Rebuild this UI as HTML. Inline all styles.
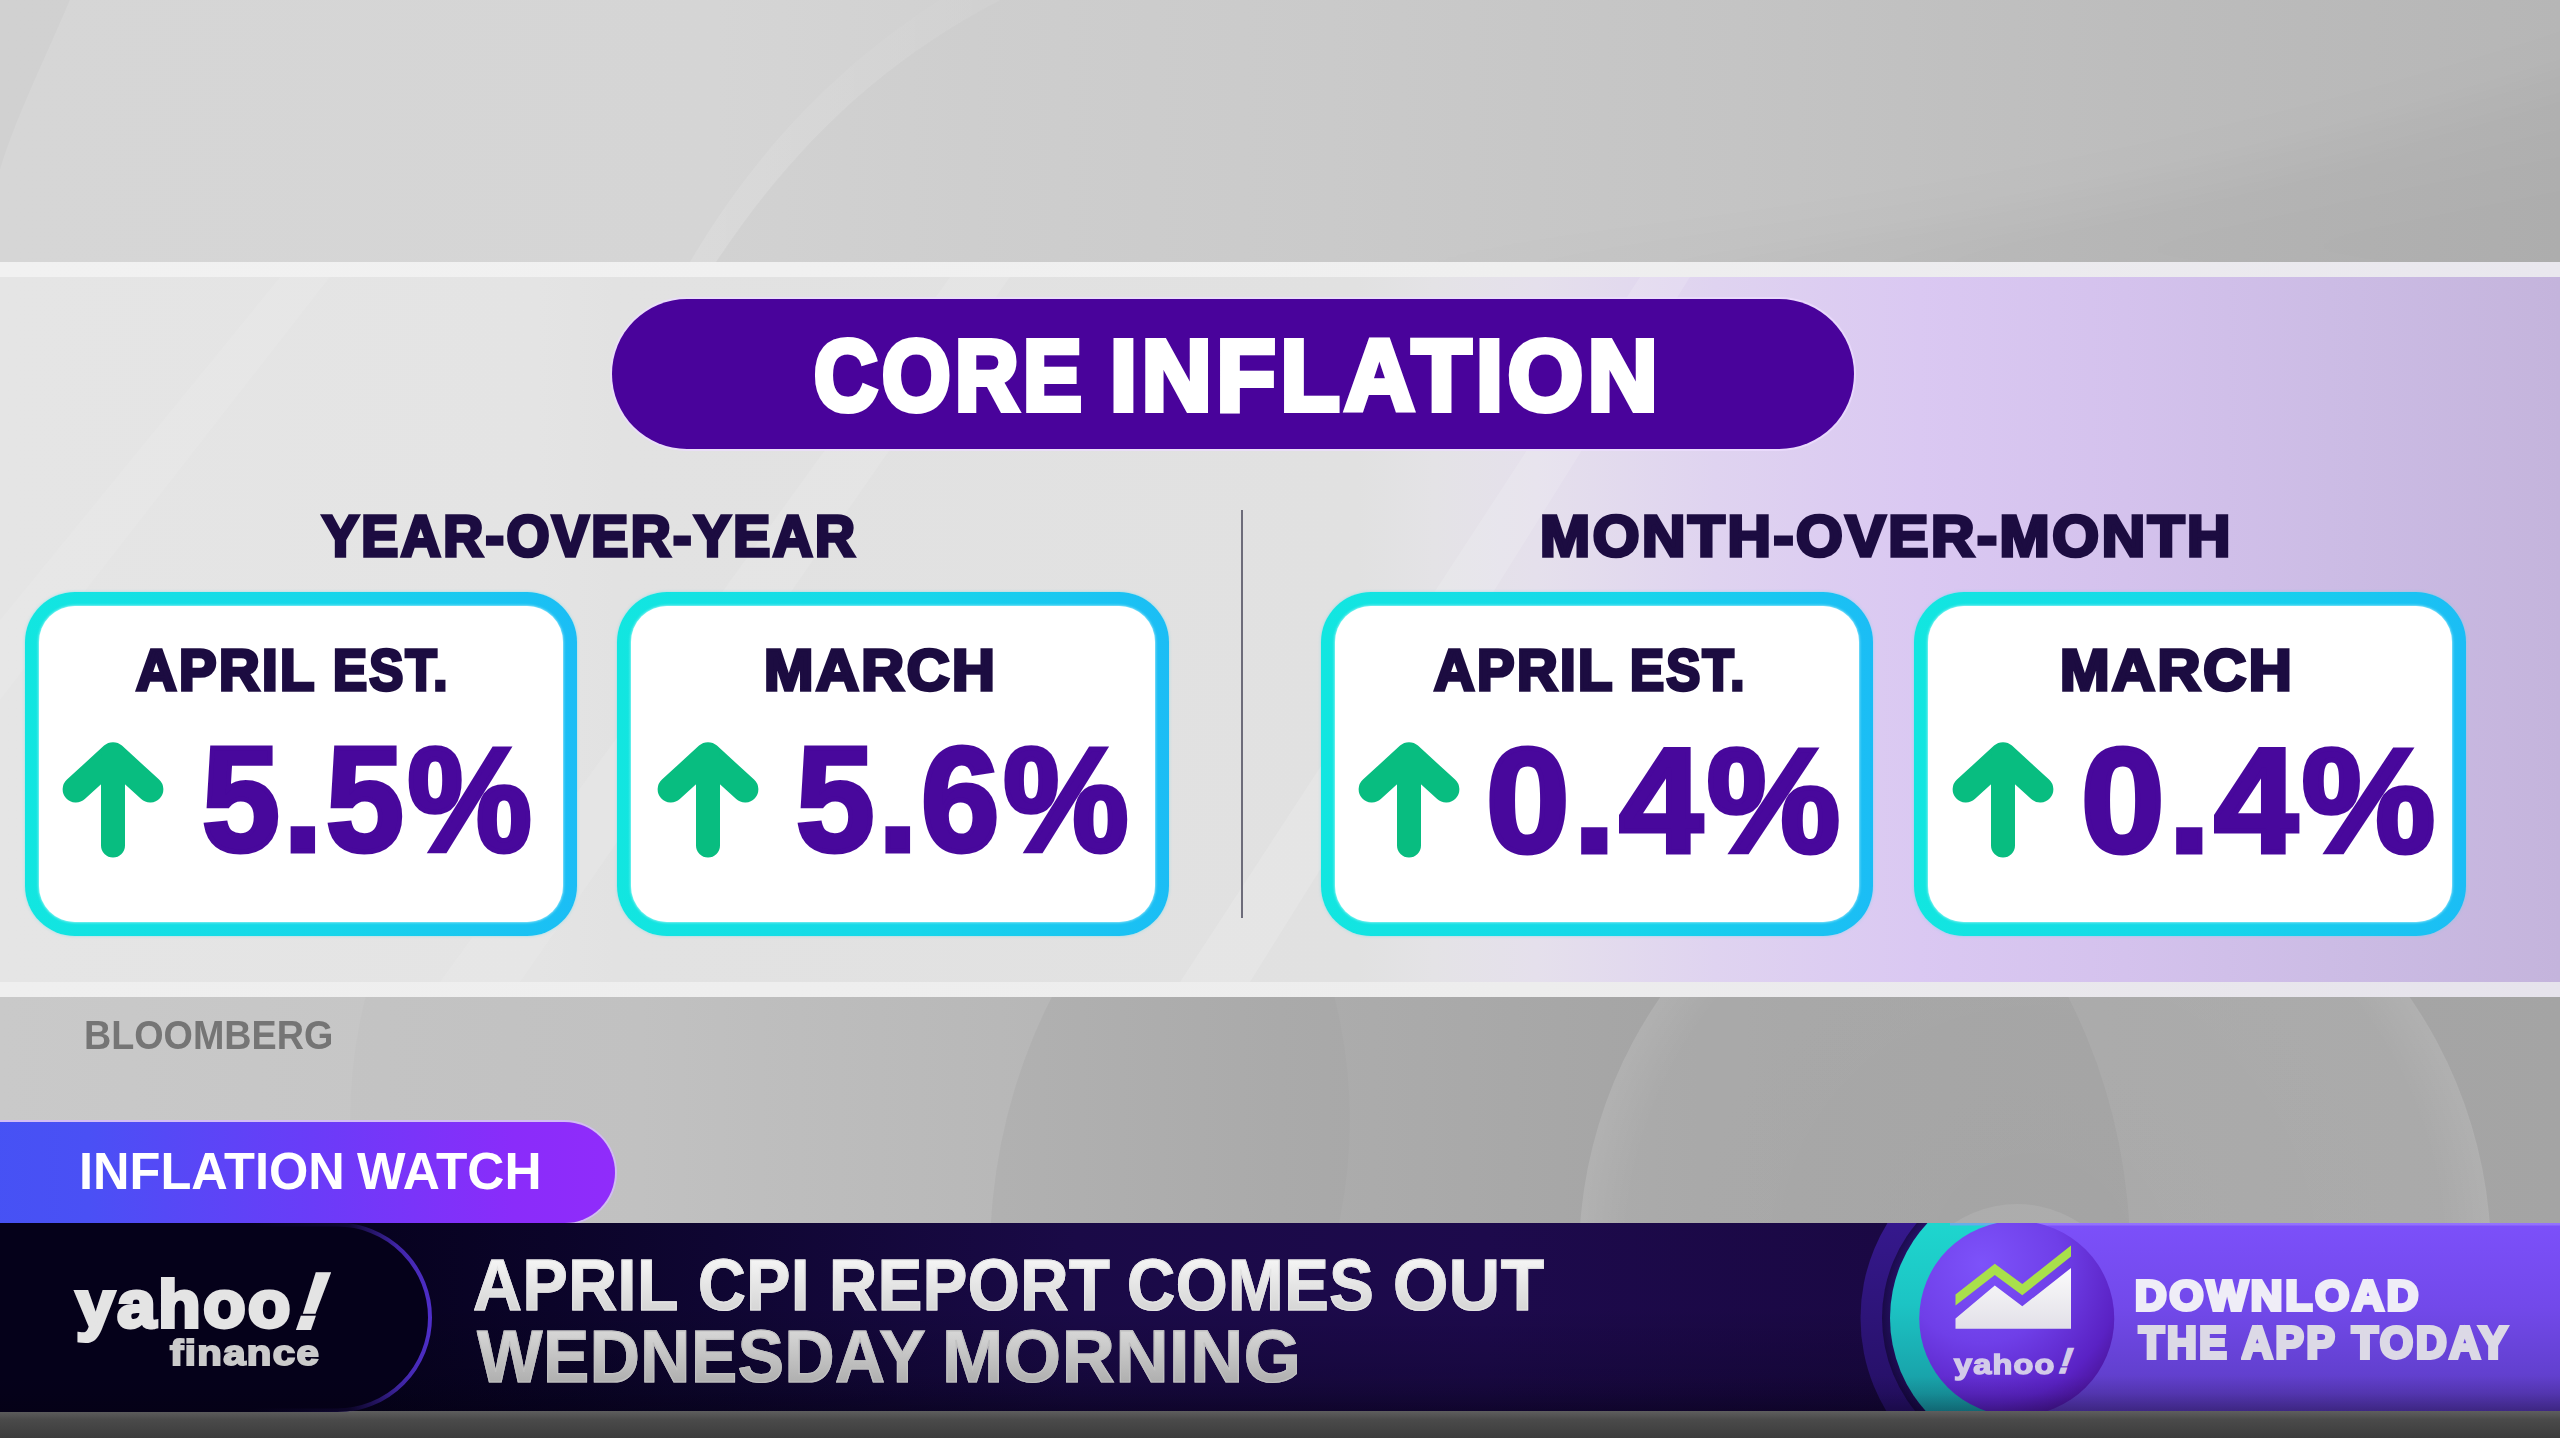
<!DOCTYPE html>
<html lang="en">
<head>
<meta charset="utf-8">
<title>Core Inflation</title>
<style>
*{margin:0;padding:0;box-sizing:border-box}
html,body{width:2560px;height:1438px;overflow:hidden;background:#cfcfcf}
body{font-family:"Liberation Sans",sans-serif;font-weight:700;position:relative}
.abs{position:absolute}
.t{position:absolute;white-space:nowrap;line-height:1;transform-origin:0 0}

/* background */
#bgTop{left:0;top:0;width:2560px;height:262px;background:linear-gradient(90deg,#d6d6d6 0%,#d5d5d5 28%,#d1d1d1 38%,#cdcdcd 52%,#c7c7c7 68%,#bfbfbf 85%,#b9b9b9 100%)}
#bgLow{left:0;top:997px;width:2560px;height:226px;background:linear-gradient(90deg,#c9c9c9 0%,#c4c4c4 25%,#b4b4b4 50%,#a9a9a9 70%,#a4a4a4 100%)}
#bgBot{left:0;top:1410px;width:2560px;height:28px;background:linear-gradient(180deg,#606060 0%,#4a4a4a 35%,#3c3c3c 100%)}

/* panel */
#panel{left:0;top:262px;width:2560px;height:735px;background:linear-gradient(90deg,#e5e5e5 0%,#e4e4e4 21%,#e2e2e2 24%,#e1e1e1 53%,#e4e3e6 56%,#e5e0ec 60%,#dfd3f0 67%,#dac8f2 75%,#d4c2ed 83%,#ccbce5 91%,#c4b4dc 100%)}
#pTop{left:0;top:262px;width:2560px;height:15px;background:linear-gradient(90deg,#f1f1f1 0%,#efefef 60%,#e9e7ee 100%)}
#pBot{left:0;top:982px;width:2560px;height:15px;background:linear-gradient(90deg,#efefef 0%,#ededed 60%,#e6e3ec 100%)}

/* title */
#pill{left:612px;top:299px;width:1242px;height:150px;border-radius:75px;background:#49039b;box-shadow:0 0 0 2px rgba(236,220,255,.75)}
.title{color:#fff;font-size:104px}
.h2{color:#1c0c41;font-size:58px}
#divider{left:1241px;top:510px;width:2px;height:408px;background:#6d6c7a}

/* cards */
.card{position:absolute;top:592px;width:552px;height:344px;border-radius:50px;background:linear-gradient(90deg,#12e6e0 0%,#16d6ea 55%,#1bbdf5 100%);box-shadow:0 0 3px rgba(80,220,240,.55)}
.card i{position:absolute;left:14px;top:14px;right:14px;bottom:14px;border-radius:36px;background:#fff;box-shadow:0 0 3px #e8ffff}
.lbl{color:#1c0c41;font-size:60px}
.num{color:#48089c;font-size:153px}
.arrow{position:absolute;overflow:visible}

/* lower third */
.src{color:#757575;font-size:40px}
#watch{left:-60px;top:1122px;width:675px;height:101px;border-radius:50.5px;background:linear-gradient(90deg,#4453f4 0%,#4a50f5 22%,#6a3cf8 55%,#8a2cfa 85%,#902cfb 100%);box-shadow:0 0 0 2px rgba(214,186,255,.8)}
.watchT{color:#fff;font-size:46px}
#bar{left:0;top:1223px;width:2560px;height:188px;background:linear-gradient(180deg,rgba(0,0,0,0) 0%,rgba(0,0,0,0) 45%,rgba(0,0,10,.28) 100%),linear-gradient(90deg,#050018 0%,#070220 15%,#0f0632 28%,#1a0a47 42%,#1d0a4c 58%,#1a0843 75%,#150838 100%)}
.hl{font-size:67px;color:#eee;background:linear-gradient(180deg,#fbfbfb 0%,#cfcfcf 100%);-webkit-background-clip:text;background-clip:text;-webkit-text-fill-color:transparent}
.hl1{-webkit-text-stroke-color:#e4e4e4}
.hl2{-webkit-text-stroke-color:#c0c0c0;background:linear-gradient(180deg,#dedede 0%,#a6a6a6 100%);-webkit-background-clip:text;background-clip:text}

.logo{color:#e4e4e4}
.fin{color:#cbcbcb}
.bang{transform-origin:0 100%}
#appbar{left:1840px;top:1223px;width:720px;height:188px;overflow:hidden}
.dl{color:#efedf7}
.dl2{color:#dcd9e6}
.ysm,#ysmx{color:#d3cbe9}
#barShade{left:0;top:1376px;width:2560px;height:35px;background:linear-gradient(180deg,rgba(4,0,16,0) 0%,rgba(4,0,16,.10) 50%,rgba(4,0,16,.30) 100%)}
</style>
</head>
<body>
<div class="abs" id="bgTop"></div>
<div class="abs" id="bgLow"></div>
<div class="abs" id="bgBot"></div>

<svg class="abs" id="deco" style="left:0;top:0" width="2560" height="1438" viewBox="0 0 2560 1438">
<defs>
<filter id="blur40" x="-20%" y="-60%" width="140%" height="220%"><feGaussianBlur stdDeviation="28"/></filter>
<clipPath id="clipTop"><rect x="0" y="0" width="2560" height="262"/></clipPath>
<clipPath id="clipLow"><rect x="0" y="997" width="2560" height="226"/></clipPath>
<linearGradient id="swA" x1="0" y1="0" x2="1" y2="0"><stop offset="0" stop-color="#fff" stop-opacity=".22"/><stop offset="1" stop-color="#fff" stop-opacity="0"/></linearGradient>
<linearGradient id="dkA" x1="0" y1="0" x2="1" y2="1"><stop offset="0" stop-color="#000" stop-opacity="0"/><stop offset="1" stop-color="#000" stop-opacity=".06"/></linearGradient>
<radialGradient id="c3G" cx=".5" cy=".5" r=".5"><stop offset="0" stop-color="#fff" stop-opacity=".03"/><stop offset=".9" stop-color="#fff" stop-opacity=".06"/><stop offset="1" stop-color="#fff" stop-opacity=".13"/></radialGradient>
</defs>
<g clip-path="url(#clipTop)">
<path d="M0 0 L70 0 C40 70 15 120 0 170 Z" fill="#000" opacity=".02"/>
<path d="M716 262 C790 150 880 62 1000 0 L2560 0 L2560 262 Z" fill="#000" opacity=".012"/>
<path d="M716 262 C790 150 880 62 1000 0 L940 0 C830 70 750 160 690 262 Z" fill="url(#swA)" opacity=".55"/>
<path d="M1350 300 C1850 250 2250 190 2660 40 L2660 300 Z" fill="url(#dkA)" filter="url(#blur40)"/>
</g>
<g clip-path="url(#clipLow)">
<circle cx="850" cy="1120" r="500" fill="#000" opacity=".012"/>
<circle cx="1560" cy="1255" r="570" fill="#000" opacity=".035"/>
<circle cx="2035" cy="1257" r="456" fill="url(#c3G)"/>
<circle cx="2017" cy="1318" r="114" fill="#fff" opacity=".09"/>
</g>
</svg>
<div class="abs" id="panel"></div>
<svg class="abs" id="streaks" style="left:0;top:277px" width="2560" height="705" viewBox="0 277 2560 705">
<polygon points="440,982 520,982 1010,277 950,277" fill="#fff" opacity=".10"/>
<polygon points="1180,982 1250,982 1690,277 1640,277" fill="#fff" opacity=".14"/>
<polygon points="0,620 0,700 330,277 280,277" fill="#fff" opacity=".08"/>
</svg>
<div class="abs" id="pTop"></div>
<div class="abs" id="pBot"></div>

<div class="abs" id="pill"></div>

<div class="abs" id="divider"></div>

<div class="card" id="c1" style="left:25px"><i></i></div>
<div class="card" id="c2" style="left:617px"><i></i></div>
<div class="card" id="c3" style="left:1321px"><i></i></div>
<div class="card" id="c4" style="left:1914px"><i></i></div>



<svg class="arrow" id="a1" style="left:62px;top:740px" width="102" height="119" viewBox="0 0 102 119"><path d="M13.9 49.3 L51 15.4 L88.1 49.3" fill="none" stroke="#08bd80" stroke-width="26.5" stroke-linecap="round" stroke-linejoin="round"/><path d="M51 16 L51 105.5" fill="none" stroke="#08bd80" stroke-width="24" stroke-linecap="round"/></svg>
<svg class="arrow" id="a2" style="left:656.7px;top:740px" width="102" height="119" viewBox="0 0 102 119"><path d="M13.9 49.3 L51 15.4 L88.1 49.3" fill="none" stroke="#08bd80" stroke-width="26.5" stroke-linecap="round" stroke-linejoin="round"/><path d="M51 16 L51 105.5" fill="none" stroke="#08bd80" stroke-width="24" stroke-linecap="round"/></svg>
<svg class="arrow" id="a3" style="left:1357.9px;top:740px" width="102" height="119" viewBox="0 0 102 119"><path d="M13.9 49.3 L51 15.4 L88.1 49.3" fill="none" stroke="#08bd80" stroke-width="26.5" stroke-linecap="round" stroke-linejoin="round"/><path d="M51 16 L51 105.5" fill="none" stroke="#08bd80" stroke-width="24" stroke-linecap="round"/></svg>
<svg class="arrow" id="a4" style="left:1951.9px;top:740px" width="102" height="119" viewBox="0 0 102 119"><path d="M13.9 49.3 L51 15.4 L88.1 49.3" fill="none" stroke="#08bd80" stroke-width="26.5" stroke-linecap="round" stroke-linejoin="round"/><path d="M51 16 L51 105.5" fill="none" stroke="#08bd80" stroke-width="24" stroke-linecap="round"/></svg>


<div class="abs" id="watch"></div>

<div class="abs" id="bar"></div>
<svg class="abs" id="logoSvg" style="left:0;top:1223px" width="460" height="189" viewBox="0 0 460 189">
<defs>
<linearGradient id="edgeG" x1="0" y1="0" x2="1" y2="0"><stop offset="0" stop-color="#4a2bbd" stop-opacity="0"/><stop offset=".55" stop-color="#4a2bbd" stop-opacity=".15"/><stop offset=".82" stop-color="#4b2cc0" stop-opacity=".85"/><stop offset="1" stop-color="#4e2ec8" stop-opacity="1"/></linearGradient>
</defs>
<path d="M0 0 H337 A94.5 94.5 0 0 1 337 189 H0 Z" fill="#05011a"/>
<path d="M250 1.5 H337 A93 93 0 0 1 337 187.5 H250" fill="none" stroke="url(#edgeG)" stroke-width="4"/>
</svg>

<div class="abs" id="appbar">
<svg width="720" height="188" viewBox="1840 1223 720 188" style="position:absolute;left:0;top:0">
<defs>
<linearGradient id="barG" x1="0" y1="0" x2="0" y2="1"><stop offset="0" stop-color="#7c50fa"/><stop offset=".45" stop-color="#7249ea"/><stop offset=".8" stop-color="#6240cf"/><stop offset="1" stop-color="#5637b4"/></linearGradient>
<linearGradient id="darkG" x1="0" y1="0" x2="0" y2="1"><stop offset="0" stop-color="#3d1ca0"/><stop offset=".5" stop-color="#2d1478"/><stop offset="1" stop-color="#1c0a4e"/></linearGradient>
<linearGradient id="tealG" x1="0" y1="0" x2="0" y2="1"><stop offset="0" stop-color="#1fe0d4"/><stop offset=".45" stop-color="#1cc4c4"/><stop offset="1" stop-color="#15808f"/></linearGradient>
<radialGradient id="mainG" cx="0.32" cy="0.22" r="0.9"><stop offset="0" stop-color="#7d52fa"/><stop offset=".45" stop-color="#6f3fe8"/><stop offset=".8" stop-color="#5a22c4"/><stop offset="1" stop-color="#45108c"/></radialGradient>
<linearGradient id="chartG" x1="0" y1="0" x2="0" y2="1"><stop offset="0" stop-color="#fbfbfb"/><stop offset="1" stop-color="#e2e0e8"/></linearGradient>
<radialGradient id="shadeG" cx="0.5" cy="0.5" r="0.5"><stop offset=".86" stop-color="#08021e" stop-opacity=".0"/><stop offset="1" stop-color="#08021e" stop-opacity=".55"/></radialGradient>
</defs>
<circle cx="2041" cy="1318" r="180.5" fill="url(#darkG)"/>
<circle cx="2029" cy="1318" r="147" fill="url(#shadeG)"/>
<circle cx="2029" cy="1318" r="139" fill="url(#tealG)"/>
<rect x="2017" y="1223" width="560" height="188" fill="url(#barG)"/>
<rect x="1950" y="1223" width="640" height="2.5" fill="#a58cff" opacity=".55"/>
<circle cx="2016.75" cy="1318.5" r="97.5" fill="url(#mainG)"/>
<path d="M2017 1223 H2560 V1411 H2017 Z" fill="none"/>
<polygon points="1955.5,1318.5 1994.8,1285.6 2022.3,1306.3 2071,1268 2071,1328.7 1955.5,1328.7" fill="url(#chartG)"/>
<polygon points="1955.5,1294.5 1994.8,1263.8 2022.3,1284 2071,1245.6 2071,1256.6 2022.3,1295.2 1994.8,1275 1955.5,1305.5" fill="#a9e04b"/>
</svg>
</div>
<div class="abs" id="barShade"></div>
<!--TEXT-START-->
<div class="t title" id="title_1" style="left:813.9px;top:325.9px;font-size:99.56px;transform:scaleX(0.8845);letter-spacing:5px;-webkit-text-stroke-width:6px">CORE</div>
<div class="t title" id="title_2" style="left:1109.7px;top:325.9px;font-size:99.56px;transform:scaleX(0.9721);letter-spacing:5px;-webkit-text-stroke-width:6px">INFLATION</div>
<div class="t h2" id="yoy" style="left:322.3px;top:508.2px;font-size:56.89px;transform:scaleX(0.9735);letter-spacing:2.5px;-webkit-text-stroke-width:3.5px">YEAR-OVER-YEAR</div>
<div class="t h2" id="mom" style="left:1539.8px;top:508.2px;font-size:56.89px;transform:scaleX(1.0564);letter-spacing:2.5px;-webkit-text-stroke-width:3.5px">MONTH-OVER-MONTH</div>
<div class="t lbl" id="l1_1" style="left:136.4px;top:641.5px;font-size:57.60px;transform:scaleX(0.9761);letter-spacing:2.5px;-webkit-text-stroke-width:3.5px">APRIL</div>
<div class="t lbl" id="l1_2" style="left:332.8px;top:641.5px;font-size:57.60px;transform:scaleX(0.8859);letter-spacing:2.5px;-webkit-text-stroke-width:3.5px">EST.</div>
<div class="t lbl" id="l2" style="left:763.6px;top:641.5px;font-size:57.60px;transform:scaleX(1.0292);letter-spacing:2.5px;-webkit-text-stroke-width:3.5px">MARCH</div>
<div class="t lbl" id="l3_1" style="left:1433.8px;top:641.5px;font-size:57.60px;transform:scaleX(0.9761);letter-spacing:2.5px;-webkit-text-stroke-width:3.5px">APRIL</div>
<div class="t lbl" id="l3_2" style="left:1630.1px;top:641.5px;font-size:57.60px;transform:scaleX(0.8859);letter-spacing:2.5px;-webkit-text-stroke-width:3.5px">EST.</div>
<div class="t lbl" id="l4" style="left:2059.9px;top:641.5px;font-size:57.60px;transform:scaleX(1.0323);letter-spacing:2.5px;-webkit-text-stroke-width:3.5px">MARCH</div>
<div class="t num" id="n1" style="left:201.5px;top:726.1px;font-size:148.45px;transform:scaleX(0.9412);letter-spacing:4px;-webkit-text-stroke-width:5px">5.5%</div>
<div class="t num" id="n2" style="left:795.6px;top:726.1px;font-size:148.45px;transform:scaleX(0.9492);letter-spacing:4px;-webkit-text-stroke-width:5px">5.6%</div>
<div class="t num" id="n3" style="left:1486.1px;top:726.6px;font-size:148.76px;transform:scaleX(1.0088);letter-spacing:4px;-webkit-text-stroke-width:5px">0.4%</div>
<div class="t num" id="n4" style="left:2081.2px;top:726.6px;font-size:148.76px;transform:scaleX(1.0088);letter-spacing:4px;-webkit-text-stroke-width:5px">0.4%</div>
<div class="t src" id="src" style="left:84.0px;top:1014.5px;font-size:40.46px;transform:scaleX(0.9323)">BLOOMBERG</div>
<div class="t watchT" id="watchT_1" style="left:79.1px;top:1147.4px;font-size:50.92px;transform:scaleX(0.9928)">INFLATION</div>
<div class="t watchT" id="watchT_2" style="left:357.2px;top:1147.4px;font-size:50.92px;transform:scaleX(1.0093)">WATCH</div>
<div class="t hl hl1" id="hl1_1" style="left:473.4px;top:1248.8px;font-size:72.39px;transform:scaleX(0.9354);letter-spacing:0.6px;-webkit-text-stroke-width:1.2px">APRIL</div>
<div class="t hl hl1" id="hl1_2" style="left:698.0px;top:1248.8px;font-size:72.39px;transform:scaleX(0.9130);letter-spacing:0.6px;-webkit-text-stroke-width:1.2px">CPI</div>
<div class="t hl hl1" id="hl1_3" style="left:828.6px;top:1248.8px;font-size:72.39px;transform:scaleX(0.9216);letter-spacing:0.6px;-webkit-text-stroke-width:1.2px">REPORT</div>
<div class="t hl hl1" id="hl1_4" style="left:1127.0px;top:1248.8px;font-size:72.39px;transform:scaleX(0.9211);letter-spacing:0.6px;-webkit-text-stroke-width:1.2px">COMES</div>
<div class="t hl hl1" id="hl1_5" style="left:1393.4px;top:1248.8px;font-size:72.39px;transform:scaleX(0.9814);letter-spacing:0.6px;-webkit-text-stroke-width:1.2px">OUT</div>
<div class="t hl hl2" id="hl2_1" style="left:477.3px;top:1320.8px;font-size:73.39px;transform:scaleX(0.9440);letter-spacing:0.6px;-webkit-text-stroke-width:1.2px">WEDNESDAY</div>
<div class="t hl hl2" id="hl2_2" style="left:942.3px;top:1320.8px;font-size:73.39px;transform:scaleX(1.0023);letter-spacing:0.6px;-webkit-text-stroke-width:1.2px">MORNING</div>
<div class="t logo" id="ylogo" style="left:75.7px;top:1271.4px;font-size:66.13px;transform:scaleX(1.0475);letter-spacing:2.5px;-webkit-text-stroke-width:4px">yahoo</div>
<div class="t logo fin" id="fin" style="left:170.1px;top:1334.8px;font-size:35.91px;transform:scaleX(1.1194);letter-spacing:1.2px;-webkit-text-stroke-width:2px">finance</div>
<div class="t ysm" id="ysm" style="left:1954.3px;top:1350.5px;font-size:27.73px;transform:scaleX(1.1708);letter-spacing:1px;-webkit-text-stroke-width:1.5px">yahoo</div>
<div class="t dl dl1" id="dl1" style="left:2134.9px;top:1273.9px;font-size:43.24px;transform:scaleX(1.0106);letter-spacing:3px;-webkit-text-stroke-width:4px">DOWNLOAD</div>
<div class="t dl dl2" id="dl2_1" style="left:2138.7px;top:1320.5px;font-size:43.80px;transform:scaleX(0.9372);letter-spacing:3px;-webkit-text-stroke-width:4px">THE</div>
<div class="t dl dl2" id="dl2_2" style="left:2241.6px;top:1320.5px;font-size:43.80px;transform:scaleX(0.9641);letter-spacing:3px;-webkit-text-stroke-width:4px">APP</div>
<div class="t dl dl2" id="dl2_3" style="left:2351.9px;top:1320.5px;font-size:43.80px;transform:scaleX(0.9681);letter-spacing:3px;-webkit-text-stroke-width:4px">TODAY</div>
<!--TEXT-END-->
<div class="t logo bang" id="ybang" style="left:286.9px;top:1261.8px;font-size:78.2px;transform:skewX(-19deg);-webkit-text-stroke-width:4px">!</div>
<div class="t bang" id="ysmx" style="left:2053.7px;top:1344.1px;font-size:35.6px;transform:skewX(-19deg);-webkit-text-stroke-width:1.5px">!</div>
</body>
</html>
